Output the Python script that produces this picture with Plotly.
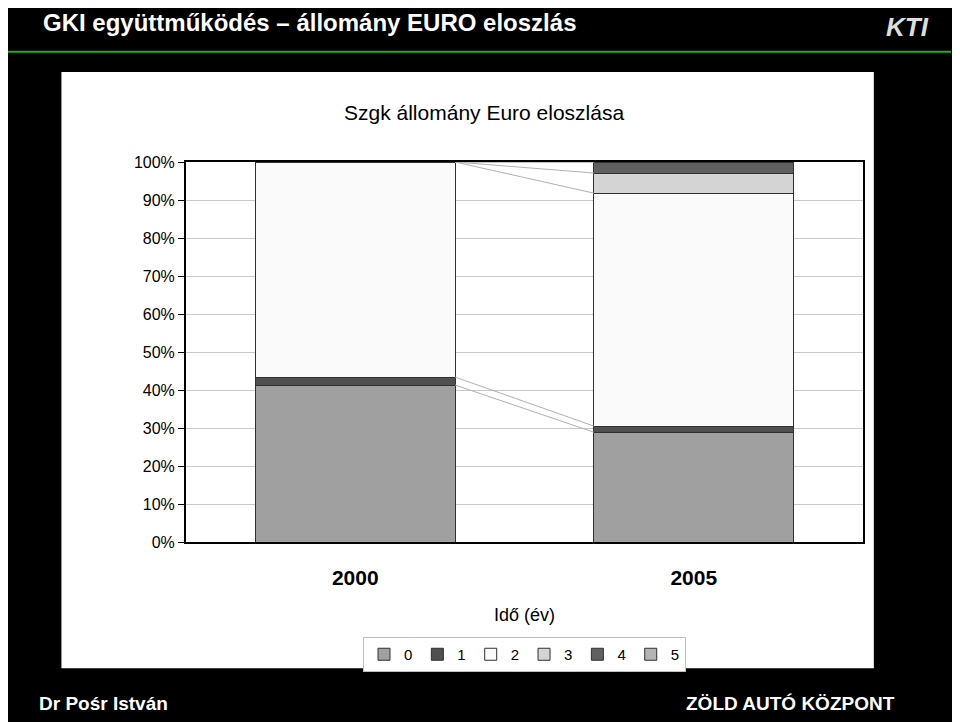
import plotly.graph_objects as go

years = ['2000', '2005']
categories = ['0', '1', '2', '3', '4', '5']
shares = {
    '0': [41.3, 28.9],
    '1': [2.1, 1.6],
    '2': [56.6, 61.3],
    '3': [0.0, 5.3],
    '4': [0.0, 2.9],
    '5': [0.0, 0.0],
}
colors = ['#a0a0a0', '#505050', '#fafafa', '#d4d4d4', '#606060', '#b4b4b4']
tick_vals = [0, 10, 20, 30, 40, 50, 60, 70, 80, 90, 100]

bar_width = 0.59
fig = go.Figure()
for cat, col in zip(categories, colors):
    fig.add_trace(go.Bar(x=[0, 1], y=shares[cat], name=cat, width=bar_width,
                         marker=dict(color=col, line=dict(color='#303030', width=1))))

# Excel-style series lines between the stacked bars
cum = [0, 0]
for cat in categories:
    cum = [cum[0] + shares[cat][0], cum[1] + shares[cat][1]]
    fig.add_trace(go.Scatter(x=[bar_width / 2, 1 - bar_width / 2], y=cum, mode='lines',
                             line=dict(color='#b0b0b0', width=1), showlegend=False,
                             hoverinfo='skip'))

fig.update_layout(
    barmode='stack',
    width=960, height=722,
    paper_bgcolor='#000000',
    plot_bgcolor='#ffffff',
    margin=dict(l=178, r=105, t=154, b=188),
    font=dict(family='Liberation Sans, Arial', color='#000000'),
    legend=dict(orientation='h', x=0.5, xanchor='center', y=-0.25, yanchor='top',
                bordercolor='#c0c0c0', borderwidth=1, bgcolor='#ffffff',
                font=dict(size=15), traceorder='normal', itemwidth=30),
    shapes=[
        dict(type='rect', xref='paper', yref='paper', x0=-0.184, x1=1.016,
             y0=-0.332, y1=1.237, fillcolor='#ffffff', line=dict(width=0), layer='below'),
        dict(type='line', xref='paper', yref='paper', x0=-0.266, x1=1.13,
             y0=1.29, y1=1.29, line=dict(color='#22aa22', width=2)),
    ],
    annotations=[
        dict(text='<b>GKI együttműködés – állomány EURO eloszlás</b>', xref='paper', yref='paper',
             x=-0.214, y=1.368, xanchor='left', yanchor='middle', showarrow=False,
             font=dict(size=24, color='#ffffff')),
        dict(text='<b><i>KTI</i></b>', xref='paper', yref='paper', x=1.1, y=1.355,
             yanchor='middle', showarrow=False, font=dict(size=26, color='#dddddd')),
        dict(text='Szgk állomány Euro eloszlása', xref='paper', yref='paper', x=0.44, y=1.129,
             yanchor='middle', showarrow=False, font=dict(size=21)),
        dict(text='<b>Részarány (%)</b>', xref='paper', yref='paper', x=-0.262, y=0.68,
             textangle=-90, showarrow=False, font=dict(size=17)),
        dict(text='Idő (év)', xref='paper', yref='paper', x=0.5, y=-0.192,
             yanchor='middle', showarrow=False, font=dict(size=18)),
        dict(text='<b>Dr Pośr István</b>', xref='paper', yref='paper', x=-0.22, y=-0.425,
             xanchor='left', yanchor='middle', showarrow=False, font=dict(size=19, color='#ffffff')),
        dict(text='<b>ZÖLD AUTÓ KÖZPONT</b>', xref='paper', yref='paper', x=1.05, y=-0.425,
             xanchor='right', yanchor='middle', showarrow=False, font=dict(size=19, color='#ffffff')),
    ],
)
fig.update_xaxes(tickvals=[0, 1], ticktext=['<b>2000</b>', '<b>2005</b>'], range=[-0.5, 1.5],
                 tickfont=dict(size=21), ticks='', ticklabelstandoff=16, showline=True,
                 linecolor='#000000', linewidth=2, mirror=True)
fig.update_yaxes(range=[0, 100], tickvals=tick_vals, ticktext=[f'{v}%' for v in tick_vals],
                 tickfont=dict(size=16), ticks='outside', ticklen=6, tickcolor='#000000',
                 showgrid=True, gridcolor='#c8c8c8', showline=True, linecolor='#000000',
                 linewidth=2, mirror=True, zeroline=False)

fig.write_html('out.html')
